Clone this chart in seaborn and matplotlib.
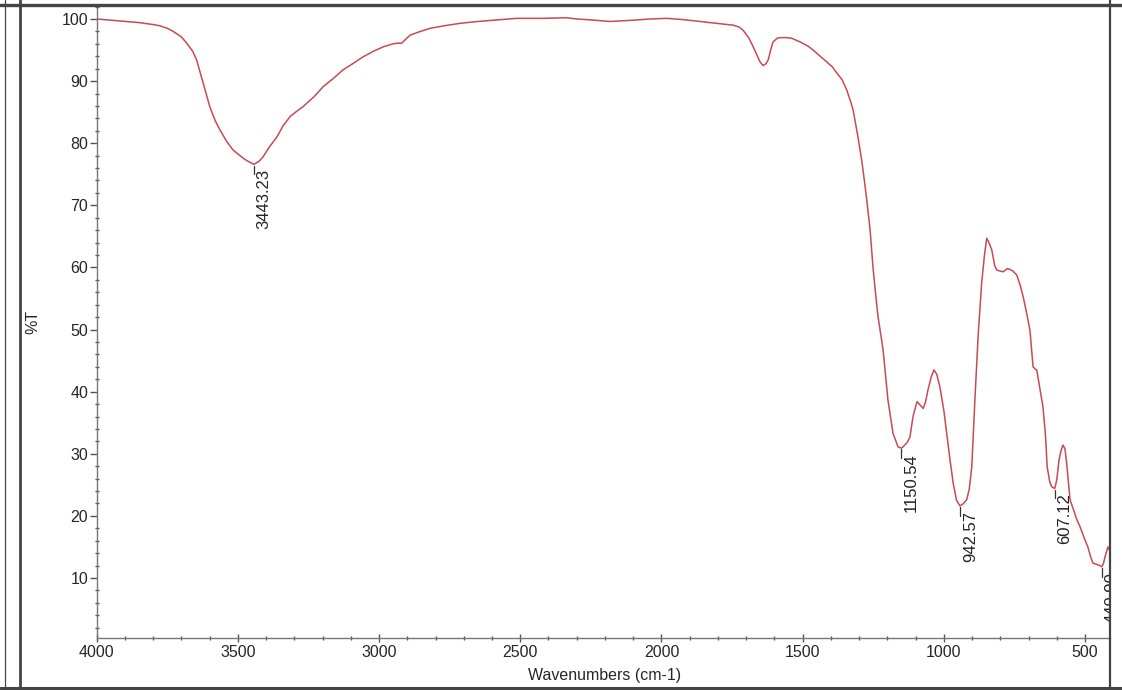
import matplotlib
matplotlib.use("Agg")
import matplotlib.pyplot as plt
import matplotlib.ticker as mticker
from matplotlib.lines import Line2D
import pandas as pd
import seaborn as sns

# FTIR spectrum (wavenumber, %T)
wavenumbers = [
    4000, 3950, 3900, 3846, 3800, 3776, 3750, 3729, 3700, 3681, 3660, 3646,
    3623, 3599, 3580, 3563, 3540, 3517, 3490, 3469, 3443, 3425, 3411, 3390,
    3362, 3340, 3315, 3290, 3269, 3230, 3198, 3160, 3128, 3090, 3057, 3020,
    2986, 2951, 2935, 2920, 2902, 2890, 2860, 2819, 2770, 2713, 2650, 2596,
    2513, 2420, 2336, 2300, 2265, 2182, 2140, 2100, 2040, 1981, 1923, 1863,
    1804, 1746, 1725, 1711, 1690, 1675, 1660, 1651, 1640, 1630, 1622, 1612,
    1605, 1590, 1580, 1560, 1539, 1509, 1480, 1463, 1440, 1415, 1395, 1379,
    1360, 1344, 1330, 1321, 1304, 1290, 1280, 1273, 1261, 1251, 1240, 1233,
    1215, 1198, 1180, 1162, 1150.5, 1145, 1130, 1120, 1109, 1095, 1085, 1073,
    1065, 1056, 1045, 1035, 1025, 1014, 1000, 990, 978, 967, 955, 942.6,
    930, 919, 910, 901, 890, 878, 866, 856, 848, 840, 830, 820,
    813, 800, 790, 775, 766, 755, 742, 730, 719, 707, 695, 684,
    675, 671, 660, 649, 640, 634, 625, 618, 607, 600, 592, 585,
    578, 571, 565, 553, 540, 530, 518, 505, 490, 480, 472, 460,
    447, 440.9, 435, 429, 422, 419, 415, 412,
]
transmittance = [
    100.0, 99.8, 99.6, 99.4, 99.1, 98.9, 98.5, 98.0, 97.1, 96.1, 94.8, 93.4,
    89.7, 85.8, 83.6, 82.1, 80.3, 78.9, 77.9, 77.2, 76.6, 77.1, 77.8, 79.3,
    81.0, 82.8, 84.3, 85.2, 85.9, 87.5, 89.1, 90.5, 91.8, 92.9, 93.9, 94.8,
    95.5, 96.0, 96.1, 96.1, 96.9, 97.4, 97.9, 98.5, 98.9, 99.3, 99.6, 99.8,
    100.1, 100.1, 100.2, 100.0, 99.9, 99.6, 99.7, 99.8, 100.0, 100.1, 99.9, 99.6,
    99.3, 99.0, 98.7, 98.2, 96.9, 95.5, 94.0, 93.1, 92.5, 92.8, 93.4, 95.2,
    96.3, 96.9, 97.0, 97.0, 96.9, 96.3, 95.6, 95.0, 94.1, 93.1, 92.3, 91.3,
    90.2, 88.6, 86.7, 85.3, 81.0, 77.0, 73.5, 70.9, 66.0, 60.1, 55.0, 52.1,
    46.7, 38.7, 33.3, 31.1, 30.9, 31.1, 31.8, 32.7, 36.0, 38.4, 37.9, 37.3,
    38.3, 40.3, 42.3, 43.5, 42.8, 40.8, 37.0, 33.3, 29.0, 25.3, 22.5, 21.6,
    22.0, 22.6, 24.3, 27.9, 38.7, 49.4, 57.5, 62.0, 64.7, 64.0, 62.8, 60.3,
    59.6, 59.4, 59.3, 59.8, 59.7, 59.4, 58.8, 57.2, 55.3, 52.7, 49.9, 44.0,
    43.6, 43.5, 40.5, 37.6, 33.0, 27.9, 25.5, 24.7, 24.4, 25.8, 29.0, 30.5,
    31.4, 30.8, 28.5, 22.6, 20.9, 19.5, 18.3, 16.7, 15.0, 13.4, 12.4, 12.2,
    12.0, 11.8, 12.3, 13.4, 14.5, 15.0, 14.6, 15.2,
]

# labelled peaks
peak_wn = [3443.23, 1150.54, 942.57, 607.12, 440.90]
peak_t = [76.6, 30.9, 21.6, 24.4, 11.8]
peak_labels = ["3443.23", "1150.54", "942.57", "607.12", "440.90"]

x_ticks = [4000, 3500, 3000, 2500, 2000, 1500, 1000, 500]
y_ticks = [10, 20, 30, 40, 50, 60, 70, 80, 90, 100]

sns.set_style("white")
plt.rcParams["font.family"] = ["Liberation Sans", "DejaVu Sans"]

df = pd.DataFrame({"wn": wavenumbers, "T": transmittance})

fig = plt.figure(figsize=(11.22, 6.90), dpi=100)
ax = fig.add_axes([96.7 / 1122, 1 - 638 / 690, (1110 - 96.7) / 1122, 633 / 690])

sns.lineplot(data=df, x="wn", y="T", sort=False, color="#c84a52",
             linewidth=1.1, ax=ax)

ax.set_xlim(4000, 411.5)
ax.set_ylim(0.34, 102.25)
ax.set_xticks(x_ticks)
ax.set_yticks(y_ticks)
ax.xaxis.set_minor_locator(mticker.MultipleLocator(100))
ax.yaxis.set_minor_locator(mticker.MultipleLocator(2))

for side in ["top", "right"]:
    ax.spines[side].set_visible(False)
for side in ["left", "bottom"]:
    ax.spines[side].set_color("#777777")
    ax.spines[side].set_linewidth(1.0)

ax.tick_params(axis="x", which="both", bottom=True, top=False)
ax.tick_params(axis="y", which="both", left=True, right=False)
ax.tick_params(axis="x", which="major", direction="inout", length=6,
               width=1, color="#555555", labelsize=11.5, pad=2)
ax.tick_params(axis="x", which="minor", direction="inout", length=3,
               width=1, color="#555555")
ax.tick_params(axis="y", which="major", direction="out", length=5,
               width=1, color="#555555", labelsize=11.5, pad=1)
ax.tick_params(axis="y", which="minor", direction="inout", length=3,
               width=1, color="#555555")

ax.set_xlabel("Wavenumbers (cm-1)", fontsize=11.5, va="center")
ax.xaxis.set_label_coords(0.5016, -0.0585)
ax.set_ylabel("%T", fontsize=11.5, va="center")
ax.yaxis.set_label_coords(-0.0629, 0.499)

# peak markers: short tick below the minimum, rotated value underneath
for wn, t, lab in zip(peak_wn, peak_t, peak_labels):
    ax.plot([wn, wn], [t - 0.2, t - 1.6], color="#333333", linewidth=0.9)
    ax.annotate(lab, xy=(wn, t), xytext=(2.0, -3.5),
                textcoords="offset points", rotation=90, ha="left", va="top",
                fontsize=12, color="#222222", annotation_clip=False,
                clip_on=True)

# outer report frame
frame = dict(transform=fig.transFigure, color="#444444")
fig.add_artist(Line2D([0, 1], [1 - 4.5 / 690] * 2, linewidth=2.4, **frame))
fig.add_artist(Line2D([0, 1], [1 - 687.5 / 690] * 2, linewidth=2.2, **frame))
fig.add_artist(Line2D([20 / 1122] * 2, [0, 1], linewidth=2.0, **frame))
fig.add_artist(Line2D([5 / 1122] * 2, [0, 1], linewidth=0.9, **frame))
fig.add_artist(Line2D([1110 / 1122] * 2, [0, 1], linewidth=1.6, **frame))

fig.savefig("out.png", dpi=100)
